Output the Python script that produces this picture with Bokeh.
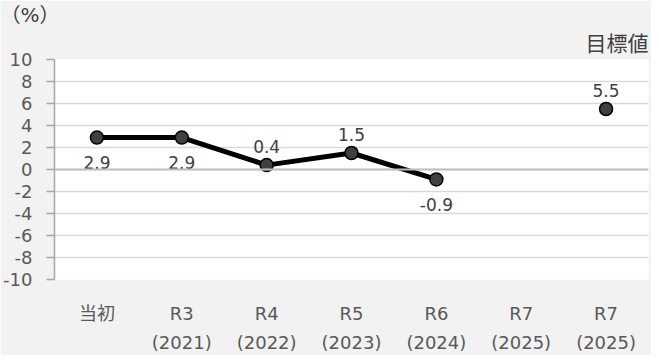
from bokeh.plotting import figure
from bokeh.models import (Range1d, LinearAxis, Span, Title,
                          ColumnDataSource, FixedTicker)
from bokeh.core.properties import value
from bokeh.embed import file_html
from bokeh.resources import INLINE

# ---- data ----
categories = ["当初", "R3", "R4", "R5", "R6", "R7", "R7目標"]
label_line1 = ["当初", "R3", "R4", "R5", "R6", "R7", "R7"]
label_line2 = [" ", "(2021)", "(2022)", "(2023)", "(2024)", "(2025)", "(2025)"]
actual_x = ["当初", "R3", "R4", "R5", "R6"]
actual_y = [2.9, 2.9, 0.4, 1.5, -0.9]
target_x = ["R7目標"]
target_y = [5.5]
y_ticks = [-10, -8, -6, -4, -2, 0, 2, 4, 6, 8, 10]
unit_text = "（%）"
target_text = "目標値"

# label placement (style): above / below
actual_place = ["below", "below", "above", "above", "below"]
target_place = ["above"]

NUM_FONT = "DejaVu Sans, Noto Sans CJK JP"
TICK_COLOR = "#595959"
LABEL_COLOR = "#404040"

cat_pos = {c: i for i, c in enumerate(categories)}
ax_x = [cat_pos[c] for c in actual_x]
tg_x = [cat_pos[c] for c in target_x]
x_ticks = list(range(len(categories)))

p = figure(width=651, height=355, x_range=Range1d(-0.5, len(categories) - 0.5),
           y_range=Range1d(-10, 10), output_backend="svg", toolbar_location=None,
           min_border_left=54, min_border_right=3, min_border_top=56,
           min_border_bottom=73, title=None)
p.background_fill_color = "white"
p.border_fill_color = "#f2f2f2"
p.outline_line_color = None

# y axis
ya = p.yaxis[0]
ya.ticker = FixedTicker(ticks=y_ticks)
ya.major_label_overrides = {t: str(t) for t in y_ticks}
ya.major_tick_out = 8
ya.major_tick_in = 0
ya.minor_tick_line_color = None
ya.axis_line_color = "#a6a6a6"
ya.axis_line_width = 1.5
ya.major_tick_line_color = "#a6a6a6"
ya.major_tick_line_width = 1.5
ya.major_label_text_font = NUM_FONT
ya.major_label_text_font_size = "18px"
ya.major_label_text_color = TICK_COLOR
ya.major_label_standoff = 14

p.ygrid.ticker = FixedTicker(ticks=y_ticks)
p.ygrid.grid_line_color = "#d9d9d9"
p.ygrid.grid_line_width = 1.5
p.xgrid.grid_line_color = None

# x axes (two lines of labels)
def style_x(ax, standoff):
    ax.ticker = FixedTicker(ticks=x_ticks)
    ax.axis_line_color = None
    ax.major_tick_line_color = None
    ax.minor_tick_line_color = None
    ax.major_tick_out = 0
    ax.major_tick_in = 0
    ax.major_label_text_font = NUM_FONT
    ax.major_label_text_font_size = "18px"
    ax.major_label_text_color = TICK_COLOR
    ax.major_label_standoff = standoff

xa = p.xaxis[0]
style_x(xa, 23)
xa.major_label_overrides = dict(zip(x_ticks, label_line1))

xa2 = LinearAxis()
style_x(xa2, 5)
xa2.major_label_overrides = dict(zip(x_ticks, label_line2))
p.add_layout(xa2, "below")

# zero line
p.add_layout(Span(location=0, dimension="width", line_color="#bfbfbf", line_width=2))

# series
p.line(ax_x, actual_y, line_color="black", line_width=5)
p.scatter(ax_x, actual_y, size=13, fill_color="#404040", line_color="black", line_width=1.5)
p.scatter(tg_x, target_y, size=13, fill_color="#404040", line_color="black", line_width=1.5)

xs = ax_x + tg_x
ys = actual_y + target_y
places = actual_place + target_place
src = ColumnDataSource(dict(
    x=xs, y=ys, t=[f"{v:.1f}" for v in ys],
    off=[-19 if pl == "above" else 25 for pl in places]))
p.text(x="x", y="y", text="t", source=src, y_offset="off",
       text_align="center", text_baseline="middle",
       text_font=value(NUM_FONT), text_font_size="17px", text_color=LABEL_COLOR)

# titles (first added sits nearest the frame)
p.add_layout(Title(text=target_text, align="right", offset=0, standoff=7,
                   text_font=NUM_FONT, text_font_size="21px",
                   text_font_style="normal", text_color=LABEL_COLOR), "above")
p.add_layout(Title(text=unit_text, align="left", offset=-54, standoff=0,
                   text_font=NUM_FONT, text_font_size="20px",
                   text_font_style="normal", text_color=LABEL_COLOR), "above")

open("out.html", "w").write(file_html(p, INLINE))
